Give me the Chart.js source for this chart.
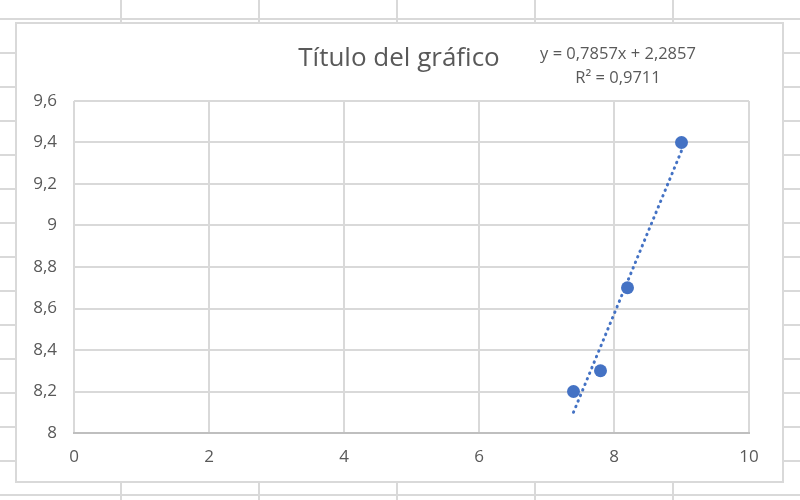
<!DOCTYPE html>
<html>
<head>
<meta charset="utf-8">
<script src="https://cdn.jsdelivr.net/npm/chart.js@4.4.0/dist/chart.umd.min.js"></script>
<style>
  html, body { margin: 0; padding: 0; }
  body {
    width: 800px; height: 500px; overflow: hidden; position: relative;
    background-color: #fff;
    /* rejilla de la hoja de cálculo detrás del gráfico */
    background-image:
      linear-gradient(to right, #d9d9d9 2px, transparent 2px),
      linear-gradient(to bottom, #d9d9d9 2px, transparent 2px);
    background-size: 138px 100%, 100% 34px;
    background-position: 120px 0, 0 18px;
  }
  #wrap {
    position: absolute; left: 15px; top: 22px; width: 765px; height: 457px;
    background: #fff; border: 2px solid #d9d9d9;
  }
  canvas { display: block; }
</style>
</head>
<body>
<div id="wrap"><canvas id="chart" width="765" height="457"></canvas></div>
<script>
// datos
const xValues = [7.4, 7.8, 8.2, 9.0];
const yValues = [8.2, 8.3, 8.7, 9.4];
// línea de tendencia (extremos)
const trendX = [7.4, 9.0];
const trendY = [8.1, 9.36];
const equationLines = ['y = 0,7857x + 2,2857', 'R² = 0,9711'];
const chartTitle = 'Título del gráfico';

const FONT = '"Open Sans", "Noto Sans", sans-serif';
const GREY_TEXT = '#595959';
const BLUE = '#4472C4';

// título y ecuación de la tendencia, colocados como en Excel
const excelLabels = {
    id: 'excelLabels',
    afterDraw(chart) {
        const ctx = chart.ctx;
        ctx.save();
        ctx.fillStyle = GREY_TEXT;
        ctx.textAlign = 'center';
        ctx.textBaseline = 'middle';
        ctx.font = '26px ' + FONT;
        ctx.fillText(chartTitle, 382, 35);
        ctx.font = '16.5px ' + FONT;
        ctx.fillText(equationLines[0], 601, 30);
        ctx.fillText(equationLines[1], 601, 54);
        ctx.restore();
    }
};

new Chart(document.getElementById('chart'), {
    type: 'scatter',
    data: {
        datasets: [
            {
                label: 'Serie1',
                data: xValues.map((x, i) => ({ x: x, y: yValues[i] })),
                backgroundColor: BLUE,
                borderColor: BLUE,
                pointRadius: 6.5,
                pointBorderWidth: 0
            },
            {
                label: 'Lineal (Serie1)',
                type: 'line',
                data: trendX.map((x, i) => ({ x: x, y: trendY[i] })),
                borderColor: BLUE,
                borderWidth: 3,
                borderDash: [0.5, 5.5],
                borderCapStyle: 'round',
                pointRadius: 0,
                fill: false
            }
        ]
    },
    options: {
        responsive: false,
        animation: false,
        layout: { padding: { left: 0, right: 33, top: 77, bottom: 0 } },
        plugins: {
            legend: { display: false },
            tooltip: { enabled: false },
            title: { display: false }
        },
        scales: {
            x: {
                type: 'linear',
                min: 0,
                max: 10,
                ticks: {
                    stepSize: 2,
                    color: GREY_TEXT,
                    font: { family: FONT, size: 17 },
                    padding: 14
                },
                grid: { color: '#d9d9d9', lineWidth: 2, drawTicks: false },
                border: { color: '#bfbfbf', width: 2 },
                afterFit(scale) { scale.height = 48; }
            },
            y: {
                min: 8,
                max: 9.6,
                ticks: {
                    stepSize: 0.2,
                    color: GREY_TEXT,
                    font: { family: FONT, size: 17 },
                    padding: 17,
                    callback: v => (Math.round(v * 10) / 10).toString().replace('.', ',')
                },
                grid: { color: '#d9d9d9', lineWidth: 2, drawTicks: false },
                border: { display: false },
                afterFit(scale) { scale.width = 57; }
            }
        }
    },
    plugins: [excelLabels]
});
</script>
</body>
</html>
